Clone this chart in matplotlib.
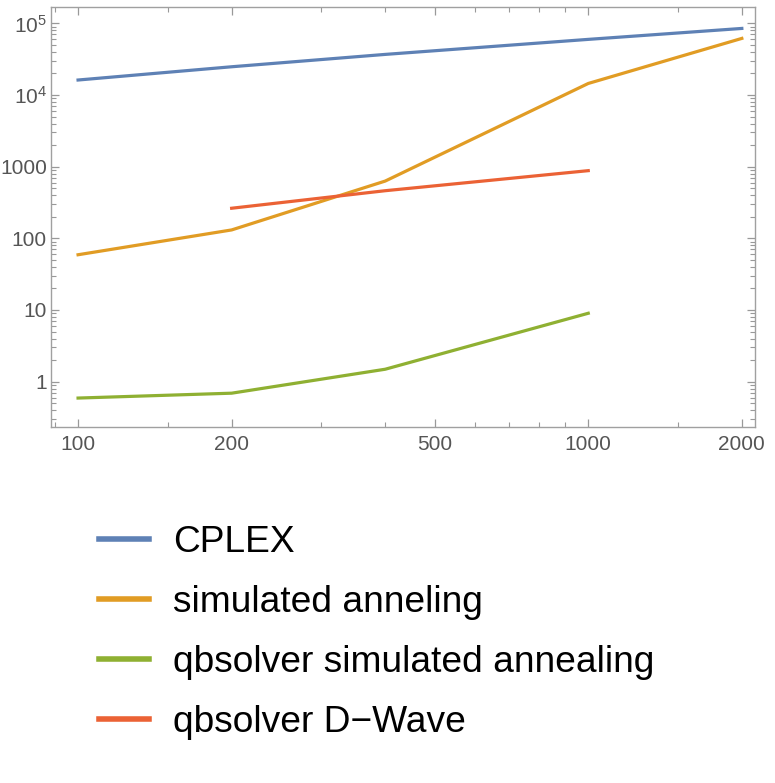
import matplotlib
matplotlib.use("Agg")
import matplotlib.pyplot as plt
from matplotlib.ticker import FixedLocator, FixedFormatter, NullFormatter

plt.rcParams['font.family'] = ['Liberation Sans', 'DejaVu Sans']
plt.rcParams['mathtext.fontset'] = 'custom'
plt.rcParams['mathtext.rm'] = 'Liberation Sans'
plt.rcParams['mathtext.it'] = 'Liberation Sans'

# data
sizes = [100, 200, 400, 1000, 2000]
cplex = [16200, 24800, 36900, 59800, 85000]
sim_anneal = [59, 131, 630, 14500, 61700]

qb_sizes = [100, 200, 400, 1000]
qb_sim = [0.59, 0.69, 1.49, 9.0]

dw_sizes = [200, 400, 1000]
qb_dwave = [263, 462, 880]

labels = ["CPLEX", "simulated anneling", "qbsolver simulated annealing", "qbsolver D\u2212Wave"]
colors = ["#5E81B5", "#E19C24", "#8FB032", "#EB6235"]

x_major = [100, 200, 500, 1000, 2000]
x_minor = [90, 150, 300, 400, 600, 700, 800, 900, 1500]
y_major = [1, 10, 100, 1000, 1e4, 1e5]
y_labels = ["1", "10", "100", "1000", r"$10^4$", r"$10^5$"]

fig = plt.figure(figsize=(7.75, 7.83), dpi=100)
ax = fig.add_axes([0.0658, 0.4547, 0.9082, 0.5363])

lines = []
lines += ax.plot(sizes, cplex, color=colors[0], lw=2.3)
lines += ax.plot(sizes, sim_anneal, color=colors[1], lw=2.3)
lines += ax.plot(qb_sizes, qb_sim, color=colors[2], lw=2.3)
lines += ax.plot(dw_sizes, qb_dwave, color=colors[3], lw=2.3)

ax.set_xscale('log')
ax.set_yscale('log')
ax.set_xlim(88.5, 2121)
ax.set_ylim(0.233, 1.69e5)

ax.xaxis.set_major_locator(FixedLocator(x_major))
ax.xaxis.set_major_formatter(FixedFormatter([str(v) for v in x_major]))
ax.xaxis.set_minor_locator(FixedLocator(x_minor))
ax.xaxis.set_minor_formatter(NullFormatter())

minor_y = [m * 10.0 ** e for e in range(-1, 6) for m in range(2, 10)]
ax.yaxis.set_major_locator(FixedLocator(y_major))
ax.yaxis.set_major_formatter(FixedFormatter(y_labels))
ax.yaxis.set_minor_locator(FixedLocator(minor_y))
ax.yaxis.set_minor_formatter(NullFormatter())

ax.tick_params(which='both', direction='in', top=True, right=True,
               color='#999999', labelcolor='#555555', labelsize=15)
ax.tick_params(which='major', length=6, width=0.9)
ax.tick_params(which='minor', length=3.5, width=0.8)
ax.tick_params(axis='x', pad=6)
ax.tick_params(axis='y', pad=3)
for s in ax.spines.values():
    s.set_color('#a0a0a0')
    s.set_linewidth(1.0)

leg = fig.legend(lines, labels, loc='upper left', bbox_to_anchor=(0.108, 0.348),
                 frameon=False, fontsize=26.7, handlelength=1.35, handletextpad=0.66,
                 labelspacing=0.67, borderaxespad=0)
for h in leg.get_lines():
    h.set_linewidth(4)

fig.savefig("out.png", dpi=100)
